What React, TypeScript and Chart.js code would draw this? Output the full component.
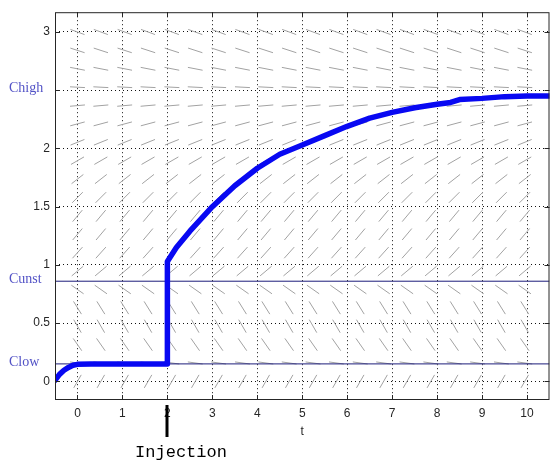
import React, { useEffect, useRef } from 'react';
import { Chart, registerables } from 'chart.js';

Chart.register(...registerables);

// Solution curve C(t)
const curveT = [-0.5, -0.4, -0.3, -0.2, -0.1, 0, 0.3, 1, 1.5, 2, 2, 2.2, 2.5, 3, 3.5, 4, 4.5, 5, 5.5, 6, 6.5, 7, 7.5, 8, 8.3, 8.5, 9, 9.5, 10, 10.5];
const curveC = [0.01, 0.06, 0.095, 0.12, 0.138, 0.146, 0.15, 0.15, 0.15, 0.15, 1.03, 1.15, 1.29, 1.5, 1.68, 1.83, 1.95, 2.03, 2.11, 2.19, 2.26, 2.31, 2.35, 2.38, 2.395, 2.42, 2.43, 2.445, 2.45, 2.45];

// Equilibrium levels
const cLevels = [2.5, 0.86, 0.15];
const cNames = ['high', 'unst', 'low'];
const cSolid = [false, true, true];

// Direction field (slope angle in degrees per row, autonomous ODE)
const fieldCols = [0, 0.52, 1.05, 1.57, 2.1, 2.62, 3.14, 3.67, 4.19, 4.71, 5.24, 5.76, 6.29, 6.81, 7.33, 7.86, 8.38, 8.9, 9.43, 9.95];
const fieldRows = [0, 0.158, 0.316, 0.474, 0.632, 0.789, 0.947, 1.105, 1.263, 1.421, 1.579, 1.737, 1.895, 2.053, 2.211, 2.368, 2.526, 2.684, 2.842, 3.0];
const fieldAngles = [60, -8, -55, -60, -58, -35, 40, 48, 50, 50, 45, 38, 30, 22, 15, 5, -3, -11, -18, -20];

// Axes
const xTickValues = [0, 1, 2, 3, 4, 5, 6, 7, 8, 9, 10];
const xTickLabels = ['0', '1', '2', '3', '4', '5', '6', '7', '8', '9', '10'];
const yTickValues = [0, 0.5, 1, 1.5, 2, 2.5, 3];
const yTickLabels = ['0', '0.5', '1', '1.5', '2', '', '3'];
const xRange = [-0.5, 10.5];
const yRange = [-0.16, 3.17];

const injectionT = 2;
const injectionText = 'Injection';
const xTitle = 't';

const SANS = '"Liberation Sans", Arial, sans-serif';

export default function App() {
  const ref = useRef<HTMLCanvasElement>(null);

  useEffect(() => {
    const canvas = ref.current;
    if (!canvas) return;

    const fieldData: { x: number; y: number; a: number }[] = [];
    fieldRows.forEach((r, i) => {
      fieldCols.forEach((c) => fieldData.push({ x: c, y: r, a: fieldAngles[i] }));
    });
    const curveData = curveT.map((t, i) => ({ x: t, y: curveC[i] }));

    const levelSets = cLevels
      .map((v, i) => ({ v, i }))
      .filter((o) => cSolid[o.i])
      .map((o) => ({
        type: 'line' as const,
        data: [
          { x: xRange[0], y: o.v },
          { x: xRange[1], y: o.v },
        ],
        borderColor: '#1c1c7a',
        borderWidth: 1,
        pointRadius: 0,
        order: 2,
      }));

    const decorPlugin = {
      id: 'decor',
      afterDatasetsDraw(chart: any) {
        const { ctx, chartArea: a, scales } = chart;
        ctx.save();
        ctx.strokeStyle = '#262626';
        ctx.lineWidth = 1;
        ctx.strokeRect(a.left + 0.5, a.top + 0.5, a.right - a.left - 1, a.bottom - a.top - 1);
        ctx.beginPath();
        scales.x.ticks.forEach((t: any) => {
          const px = Math.round(scales.x.getPixelForValue(t.value)) + 0.5;
          ctx.moveTo(px, a.bottom);
          ctx.lineTo(px, a.bottom - 5);
          ctx.moveTo(px, a.top);
          ctx.lineTo(px, a.top + 5);
        });
        scales.y.ticks.forEach((t: any) => {
          const py = Math.round(scales.y.getPixelForValue(t.value)) + 0.5;
          ctx.moveTo(a.left, py);
          ctx.lineTo(a.left + 5, py);
          ctx.moveTo(a.right, py);
          ctx.lineTo(a.right - 5, py);
        });
        ctx.stroke();
        ctx.restore();
      },
      afterDraw(chart: any) {
        const { ctx, scales } = chart;
        ctx.save();
        // Equilibrium labels
        ctx.fillStyle = '#5252c6';
        ctx.font = '14px "Liberation Serif", "Times New Roman", serif';
        ctx.textAlign = 'left';
        ctx.textBaseline = 'middle';
        cLevels.forEach((v, i) => {
          const py = scales.y.getPixelForValue(v);
          ctx.fillText('C' + cNames[i], 9, py - 2);
        });
        // Injection arrow + text
        const px = Math.round(scales.x.getPixelForValue(injectionT));
        ctx.strokeStyle = '#000';
        ctx.lineWidth = 3;
        ctx.beginPath();
        ctx.moveTo(px, 405);
        ctx.lineTo(px, 437);
        ctx.stroke();
        ctx.fillStyle = '#000';
        ctx.font = '17px "Liberation Mono", "Courier New", monospace';
        ctx.textAlign = 'center';
        ctx.fillText(injectionText, px + 14, 452);
        ctx.restore();
      },
    };

    const chart = new Chart(canvas, {
      type: 'scatter',
      data: {
        datasets: [
          {
            type: 'scatter',
            data: fieldData,
            showLine: false,
            pointStyle: 'line',
            pointRadius: 7.5,
            pointBorderWidth: 1,
            pointBorderColor: '#a2a2a2',
            pointRotation: (c: any) => -(c.raw ? c.raw.a : 0),
            order: 3,
          } as any,
          ...levelSets,
          {
            type: 'line',
            data: curveData,
            borderColor: '#0808f2',
            borderWidth: 5.5,
            borderJoinStyle: 'round',
            borderCapStyle: 'round',
            pointRadius: 0,
            tension: 0,
            order: 1,
          } as any,
        ],
      },
      options: {
        animation: false,
        responsive: false,
        events: [],
        layout: { padding: { top: 10, right: 1, left: 0, bottom: 0 } },
        plugins: { legend: { display: false }, tooltip: { enabled: false } },
        scales: {
          x: {
            type: 'linear',
            min: xRange[0],
            max: xRange[1],
            afterBuildTicks: (s: any) => {
              s.ticks = xTickValues.map((v) => ({ value: v }));
            },
            afterFit: (s: any) => {
              s.height = 61;
            },
            grid: { color: '#111', lineWidth: 1, drawTicks: false },
            border: { display: false, dash: [1, 3] },
            ticks: {
              autoSkip: false,
              maxRotation: 0,
              padding: 6,
              color: '#262626',
              font: { family: SANS, size: 12 },
              callback: (_v: any, i: number) => xTickLabels[i],
            },
            title: {
              display: true,
              text: xTitle,
              color: '#262626',
              font: { family: SANS, size: 12 },
              padding: { top: 0, bottom: 22 },
            },
          },
          y: {
            type: 'linear',
            min: yRange[0],
            max: yRange[1],
            afterBuildTicks: (s: any) => {
              s.ticks = yTickValues.map((v) => ({ value: v }));
            },
            afterFit: (s: any) => {
              s.width = 55;
            },
            grid: { color: '#111', lineWidth: 1, drawTicks: false },
            border: { display: false, dash: [1, 3] },
            ticks: {
              autoSkip: false,
              padding: 5,
              color: '#262626',
              font: { family: SANS, size: 12 },
              callback: (_v: any, i: number) => yTickLabels[i],
            },
          },
        },
      } as any,
      plugins: [decorPlugin],
    });

    return () => chart.destroy();
  }, []);

  return (
    <div style={{ position: 'absolute', left: 0, top: 0, width: 558, height: 461, background: '#fff' }}>
      <canvas ref={ref} width={558} height={461} />
    </div>
  );
}
